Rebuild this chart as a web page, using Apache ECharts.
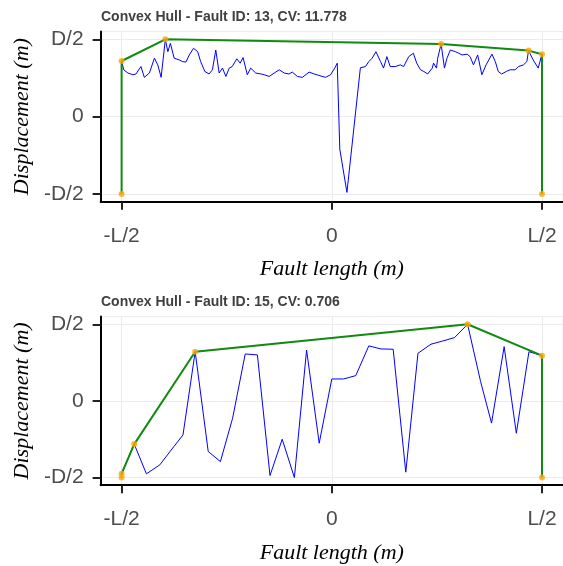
<!DOCTYPE html>
<html><head><meta charset="utf-8">
<script src="https://cdn.jsdelivr.net/npm/echarts@6/dist/echarts.min.js"></script>
<style>html,body{margin:0;padding:0;background:#fff}#c{width:563px;height:566px}</style>
</head><body><div id="c"></div>
<script>
// ---- Data ----
const panelTitles = ['Convex Hull - Fault ID: 13, CV: 11.778', 'Convex Hull - Fault ID: 15, CV: 0.706'];
const xTickValues = [-0.5, 0, 0.5];
const xTickLabels = ['-L/2', '0', 'L/2'];
const yTickValues = [-0.5, 0, 0.5];
const yTickLabels = ['-D/2', '0', 'D/2'];
const xAxisTitle = 'Fault length (m)';
const yAxisTitle = 'Displacement (m)';

// Fault 13 profile
const fault13X = [-0.5, -0.495, -0.485, -0.473, -0.466, -0.454, -0.446, -0.434, -0.422, -0.414,
  -0.406, -0.396, -0.390, -0.384, -0.375, -0.363, -0.355, -0.347, -0.339, -0.329,
  -0.319, -0.312, -0.302, -0.292, -0.284, -0.276, -0.268, -0.260, -0.252, -0.244,
  -0.237, -0.226, -0.218, -0.211, -0.201, -0.193, -0.181, -0.168, -0.161, -0.149,
  -0.137, -0.125, -0.113, -0.102, -0.094, -0.082, -0.070, -0.054, -0.042, -0.031,
  -0.015, -0.003, 0.007, 0.013, 0.019, 0.036, 0.068, 0.072, 0.080, 0.088,
  0.096, 0.105, 0.116, 0.123, 0.131, 0.139, 0.151, 0.163, 0.171, 0.175,
  0.183, 0.194, 0.202, 0.211, 0.219, 0.228, 0.239, 0.242, 0.249, 0.252,
  0.260, 0.268, 0.274, 0.282, 0.294, 0.302, 0.310, 0.322, 0.329, 0.337,
  0.347, 0.357, 0.367, 0.381, 0.389, 0.396, 0.404, 0.415, 0.424, 0.436,
  0.444, 0.456, 0.464, 0.468, 0.479, 0.491, 0.5];
const fault13Y = [0.36, 0.303, 0.282, 0.271, 0.276, 0.324, 0.254, 0.282, 0.378, 0.335,
  0.254, 0.5, 0.42, 0.474, 0.378, 0.367, 0.356, 0.353, 0.399, 0.442,
  0.42, 0.356, 0.292, 0.276, 0.303, 0.431, 0.282, 0.314, 0.26, 0.314,
  0.324, 0.374, 0.346, 0.382, 0.271, 0.314, 0.282, 0.276, 0.271, 0.26,
  0.282, 0.303, 0.282, 0.276, 0.288, 0.26, 0.254, 0.288, 0.276, 0.267,
  0.254, 0.271, 0.314, 0.346, -0.21, -0.49, 0.316, 0.324, 0.324, 0.356,
  0.378, 0.42, 0.356, 0.314, 0.388, 0.324, 0.324, 0.335, 0.324, 0.346,
  0.388, 0.41, 0.346, 0.303, 0.292, 0.276, 0.314, 0.346, 0.314, 0.378,
  0.47, 0.314, 0.378, 0.431, 0.42, 0.41, 0.399, 0.404, 0.388, 0.335,
  0.399, 0.271, 0.335, 0.404, 0.356, 0.292, 0.276, 0.292, 0.303, 0.303,
  0.324, 0.335, 0.356, 0.427, 0.367, 0.314, 0.404];
const hull13X = [-0.5, -0.5, -0.396, 0.26, 0.468, 0.5, 0.5];
const hull13Y = [-0.5, 0.36, 0.5, 0.47, 0.427, 0.404, -0.5];

// Fault 15 profile
const fault15X = [-0.5, -0.470, -0.441, -0.409, -0.382, -0.354, -0.325, -0.294, -0.265, -0.236,
  -0.206, -0.177, -0.147, -0.118, -0.089, -0.060, -0.030, 0.0, 0.028, 0.057,
  0.088, 0.117, 0.146, 0.176, 0.205, 0.236, 0.264, 0.292, 0.323, 0.354,
  0.380, 0.410, 0.439, 0.469, 0.5];
const fault15Y = [-0.475, -0.282, -0.476, -0.417, -0.32, -0.222, 0.321, -0.33, -0.396, -0.113,
  0.306, 0.3, -0.487, -0.25, -0.5, 0.332, -0.276, 0.143, 0.143, 0.165,
  0.359, 0.339, 0.337, -0.465, 0.311, 0.37, 0.391, 0.413, 0.5, 0.126,
  -0.145, 0.354, -0.211, 0.321, 0.295];
const hull15X = [-0.5, -0.5, -0.47, -0.325, 0.323, 0.5, 0.5];
const hull15Y = [-0.5, -0.475, -0.282, 0.321, 0.5, 0.295, -0.5];

// ---- Build ----
const zip = (xs, ys) => xs.map((x, i) => [x, ys[i]]);
const lab = (vals, labels) => v => {
  const i = vals.findIndex(t => Math.abs(t - v) < 1e-9);
  return i >= 0 ? labels[i] : '';
};
const grids = [
  {left: 100.6, width: 465.5, top: 31.6, height: 170.1},
  {left: 100.6, width: 465.5, top: 316.6, height: 168.6}
].map(g => Object.assign(g, {show: true, borderColor: '#ebebeb', borderWidth: 1, backgroundColor: 'transparent', containLabel: false}));

const tickLabelStyle = {fontFamily: 'Liberation Sans', fontSize: 21, color: '#4d4d4d'};
const nameStyle = {fontFamily: 'Liberation Serif', fontStyle: 'italic', fontSize: 22, color: '#000'};

function xAx(gi) {
  return {
    type: 'value', gridIndex: gi, min: -0.55, max: 0.55,
    name: xAxisTitle, nameLocation: 'middle', nameGap: 57, nameTextStyle: nameStyle,
    axisLine: {show: true, onZero: false, lineStyle: {color: '#000', width: 2}},
    axisTick: {show: true, length: 8, customValues: xTickValues, lineStyle: {color: '#222', width: 2}},
    axisLabel: {customValues: xTickValues, formatter: lab(xTickValues, xTickLabels), margin: 24, ...tickLabelStyle},
    splitLine: {show: true, lineStyle: {color: '#ebebeb', width: 1}}
  };
}
function yAx(gi) {
  return {
    type: 'value', gridIndex: gi, min: -0.55, max: 0.55,
    name: yAxisTitle, nameLocation: 'middle', nameGap: 66, nameTextStyle: nameStyle,
    axisLine: {show: true, onZero: false, lineStyle: {color: '#000', width: 2}},
    axisTick: {show: true, length: 8, customValues: yTickValues, lineStyle: {color: '#222', width: 2}},
    axisLabel: {customValues: yTickValues, formatter: lab(yTickValues, yTickLabels), margin: 17, ...tickLabelStyle},
    splitLine: {show: true, lineStyle: {color: '#ebebeb', width: 1}}
  };
}
function panelSeries(gi, px, py, hx, hy) {
  return [
    {type: 'line', xAxisIndex: gi, yAxisIndex: gi, data: zip(px, py), showSymbol: false, z: 2,
     lineStyle: {color: '#0000ff', width: 1}, silent: true},
    {type: 'line', xAxisIndex: gi, yAxisIndex: gi, data: zip(hx, hy), showSymbol: false, z: 3,
     lineStyle: {color: '#108a10', width: 2}, silent: true},
    {type: 'scatter', xAxisIndex: gi, yAxisIndex: gi, data: zip(hx, hy), symbolSize: 6, z: 4,
     itemStyle: {color: '#ffa500'}, silent: true}
  ];
}
const option = {
  animation: false,
  backgroundColor: '#fff',
  title: [
    {text: panelTitles[0], left: 101, top: 10, padding: 0, textStyle: {fontFamily: 'Liberation Sans', fontWeight: 'bold', fontSize: 14, color: '#404040'}},
    {text: panelTitles[1], left: 101, top: 295, padding: 0, textStyle: {fontFamily: 'Liberation Sans', fontWeight: 'bold', fontSize: 14, color: '#404040'}}
  ],
  grid: grids,
  xAxis: [xAx(0), xAx(1)],
  yAxis: [yAx(0), yAx(1)],
  series: [
    ...panelSeries(0, fault13X, fault13Y, hull13X, hull13Y),
    ...panelSeries(1, fault15X, fault15Y, hull15X, hull15Y)
  ]
};
const chart = echarts.init(document.getElementById('c'), null, {renderer: 'canvas'});
chart.setOption(option);
</script>
</body></html>
